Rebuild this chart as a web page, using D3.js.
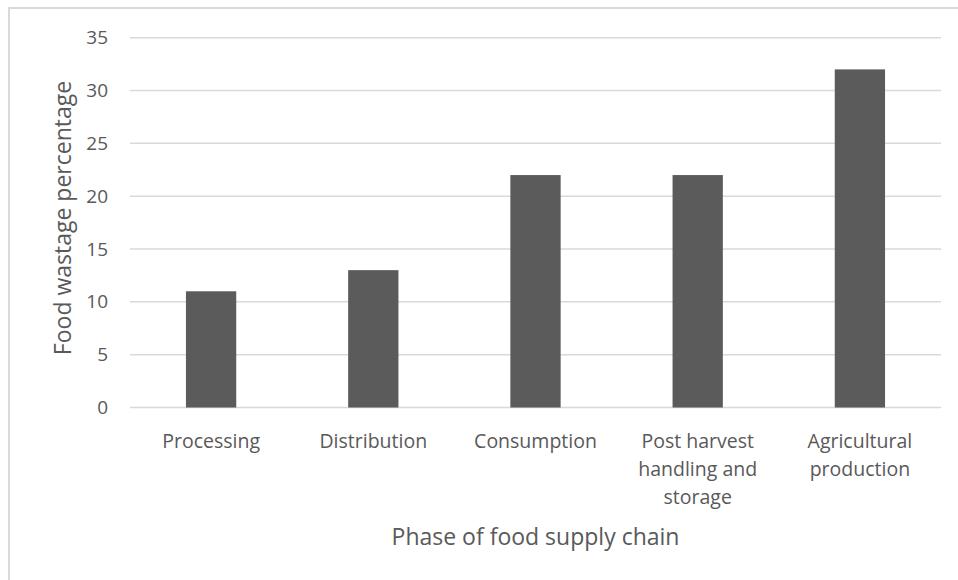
<!DOCTYPE html>
<html>
<head>
<meta charset="utf-8">
<script src="https://cdn.jsdelivr.net/npm/d3@7"></script>
<style>
  body { margin: 0; background: #fff; }
  text { font-family: "Open Sans", "Noto Sans", sans-serif; fill: #595959; }
</style>
</head>
<body>
<div id="chart"></div>
<script>
// data
const categories = [
    ["Processing"],
    ["Distribution"],
    ["Consumption"],
    ["Post harvest", "handling and", "storage"],
    ["Agricultural", "production"]
];
const values = [11, 13, 22, 22, 32];
const yTicks = [0, 5, 10, 15, 20, 25, 30, 35];

const width = 958, height = 580;
const margin = {top: 37.7, right: 17, bottom: 172.5, left: 130};

const svg = d3.select("#chart").append("svg")
    .attr("width", width)
    .attr("height", height);

// chart frame (only top/left visible in the picture)
svg.append("rect")
    .attr("x", 9).attr("y", 8)
    .attr("width", 1000).attr("height", 700)
    .attr("fill", "none")
    .attr("stroke", "#d9d9d9")
    .attr("stroke-width", 2);

const x = d3.scaleBand()
    .domain(categories.map((d, i) => i))
    .range([margin.left, width - margin.right])
    .paddingInner(0.69)
    .paddingOuter(0.345);

const y = d3.scaleLinear()
    .domain([0, 35])
    .range([height - margin.bottom, margin.top]);

// gridlines
svg.append("g")
    .selectAll("line")
    .data(yTicks)
    .join("line")
    .attr("x1", margin.left)
    .attr("x2", width - margin.right)
    .attr("y1", d => y(d))
    .attr("y2", d => y(d))
    .attr("stroke", "#d9d9d9")
    .attr("stroke-width", 1.5);

// y tick labels
svg.append("g")
    .selectAll("text")
    .data(yTicks)
    .join("text")
    .attr("x", 108)
    .attr("y", d => y(d))
    .attr("dy", "0.35em")
    .attr("text-anchor", "end")
    .style("font-size", "19px")
    .text(d => d);

// bars
svg.append("g")
    .selectAll("rect")
    .data(values)
    .join("rect")
    .attr("x", (d, i) => x(i))
    .attr("width", x.bandwidth())
    .attr("y", d => y(d))
    .attr("height", d => y(0) - y(d))
    .attr("fill", "#5b5b5b");

// category labels
const lbl = svg.append("g")
    .selectAll("text")
    .data(categories)
    .join("text")
    .attr("x", (d, i) => x(i) + x.bandwidth() / 2)
    .attr("y", 448)
    .attr("text-anchor", "middle")
    .style("font-size", "19.5px");
lbl.selectAll("tspan")
    .data(d => d)
    .join("tspan")
    .attr("x", function() { return this.parentNode.getAttribute("x"); })
    .attr("dy", (d, i) => i === 0 ? 0 : 28)
    .text(d => d);

// axis titles
svg.append("text")
    .attr("x", (margin.left + width - margin.right) / 2)
    .attr("y", 545)
    .attr("text-anchor", "middle")
    .style("font-size", "23px")
    .text("Phase of food supply chain");

svg.append("text")
    .attr("transform", "translate(71," + 218 + ") rotate(-90)")
    .attr("text-anchor", "middle")
    .style("font-size", "23px")
    .text("Food wastage percentage");
</script>
</body>
</html>
